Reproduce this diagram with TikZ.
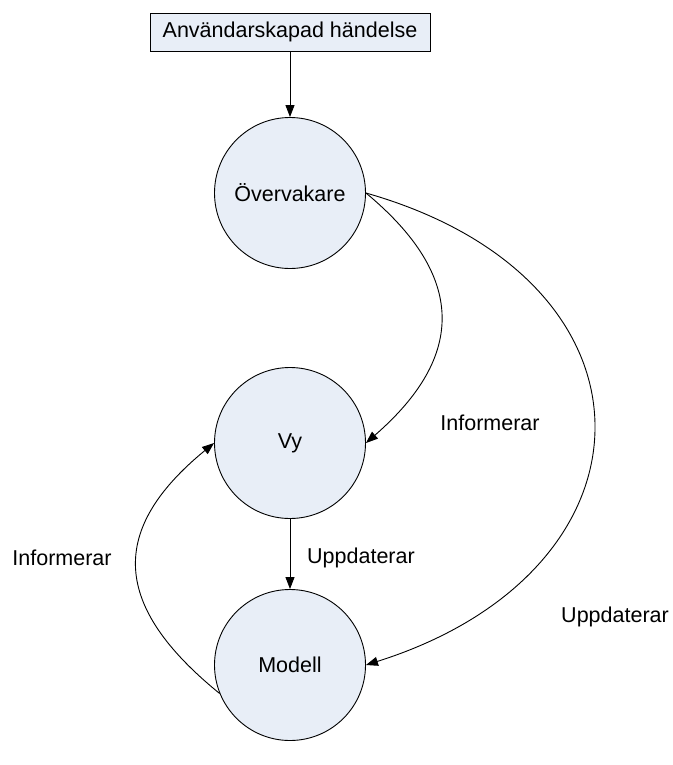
\documentclass[tikz,border=0pt]{standalone}
\usepackage{fontspec}
\setmainfont{Liberation Sans}
\usetikzlibrary{arrows.meta}
\definecolor{nodefill}{RGB}{232,238,247}
\begin{document}
\begin{tikzpicture}[x=1pt,y=-1pt,
  every node/.style={font=\fontsize{21.5}{25}\selectfont},
  state/.style={circle,draw,line width=0.9pt,fill=nodefill,minimum size=151pt,inner sep=0pt},
  eventbox/.style={rectangle,draw,line width=0.9pt,fill=nodefill,minimum width=280pt,minimum height=38pt,inner sep=0pt},
  lbl/.style={inner sep=0pt},
  flow/.style={line width=0.9pt,-{Triangle[length=12pt,width=9pt]}}]
\useasboundingbox (0,0) rectangle (672,765);

% nodes
\node[eventbox] (ev) at (290,32) {Användarskapad händelse};
\node[state] (ov) at (290,193) {Övervakare};
\node[state] (vy) at (290,443) {Vy};
\node[state] (mo) at (290,665) {Modell};

% labels
\node[lbl] (l1) at (490,423) {Informerar};
\node[lbl] (l2) at (62,558) {Informerar};
\node[lbl,anchor=west] (l3) at (307,558) {Uppdaterar};
\node[lbl,anchor=east] (l4) at (669,617) {Uppdaterar};

% connectors
\draw[flow] (ev.south) -- (ov.north);
\draw[flow] (vy.south) -- (mo.north);
\draw[flow] (ov.east) .. controls (466,276) and (466,356) .. (vy.east);
\draw[flow] (ov.east) .. controls (672,280) and (667,570) .. (mo.east);
\draw[flow] (mo.202) .. controls (112,606) and (108,530) .. (vy.west);
\end{tikzpicture}
\end{document}
